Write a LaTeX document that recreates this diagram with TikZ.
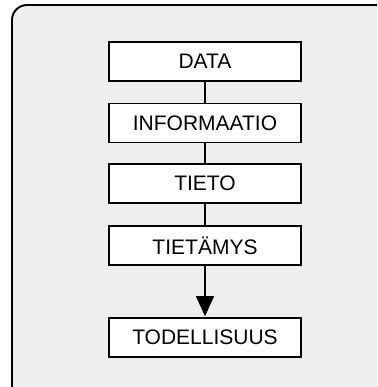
\documentclass[tikz,border=0pt]{standalone}
\usepackage{fontspec}
\setmainfont{Liberation Sans}
\usetikzlibrary{arrows.meta}
\begin{document}
\begin{tikzpicture}[x=1pt,y=-1pt,
  stage/.style={draw=black,line width=1.6pt,fill=white,minimum width=192pt,minimum height=39pt,inner sep=0pt,font=\fontsize{21}{25}\selectfont},
  link/.style={draw=black,line width=1.5pt}]
\useasboundingbox (0,0) rectangle (377,387);
\clip (0,0) rectangle (377,387);
\draw[fill={rgb,255:red,238;green,238;blue,238},line width=1.9pt,rounded corners=15pt] (12,5) rectangle (390,400);
\node[stage] (data) at (205,61.5) {DATA};
\node[stage] (info) at (205,123) {INFORMAATIO};
\node[stage] (tieto) at (205,183.5) {TIETO};
\node[stage] (tietamys) at (205,245.5) {TIETÄMYS};
\node[stage] (tod) at (205,337.5) {TODELLISUUS};
\draw[link] (data) -- (info);
\draw[link] (info) -- (tieto);
\draw[link] (tieto) -- (tietamys);
\draw[link,-{Triangle[width=18pt,length=20pt]},shorten >=1pt] (tietamys) -- (tod);
\end{tikzpicture}
\end{document}
